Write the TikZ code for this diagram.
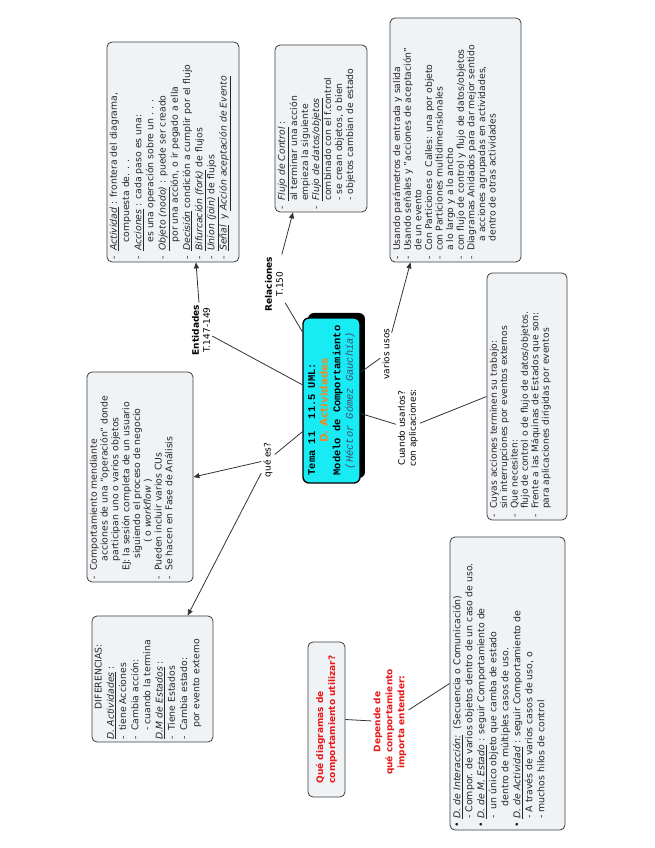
\documentclass[tikz,border=0pt]{standalone}
\usepackage{fontspec}
\setmainfont{DejaVu Sans}
\newfontfamily\monofont{Liberation Mono}
\usetikzlibrary{arrows.meta}

\definecolor{boxfill}{RGB}{240,243,246}
\definecolor{boxline}{RGB}{60,60,60}
\definecolor{temafill}{RGB}{25,235,245}
\definecolor{temaorange}{RGB}{232,140,40}
\definecolor{autor}{RGB}{60,80,110}
\definecolor{rojo}{RGB}{232,25,25}

\newcommand{\bul}{\makebox[0.9em][l]{-}}
\newcommand{\ind}{\hspace*{0.9em}}
\newcommand{\uit}[1]{\underline{\textit{#1}}}

\tikzset{
  box/.style={draw=boxline, fill=boxfill, line width=0.8pt, rounded corners=5pt, inner sep=0pt},
  txt/.style={anchor=north west, inner sep=3pt, align=left, text=black!85},
  tema/.style={draw=black, line width=1.4pt, fill=temafill, rounded corners=6pt,
    inner sep=0pt, minimum width=165pt, minimum height=57pt,
    font=\fontsize{10.4}{12.6}\selectfont},
  lbl/.style={align=center, inner sep=2pt, font=\fontsize{9}{11}\selectfont},
  link/.style={line width=0.8pt, black!80},
  arr/.style={link, -{Triangle[length=6pt,width=5pt]}},
}

\begin{document}
\begin{tikzpicture}[x=1pt, y=1pt]
\begin{scope}[rotate=90, transform shape]
\useasboundingbox (0,0) rectangle (848,655);

%% central node with its shadow
\fill[black, rounded corners=6pt] (370,290) rectangle (535,347);
\node[tema] (tema) at (447.5,323.5) {%
  \begin{tabular}{@{}l@{}}
  {\monofont\bfseries Tema 11\ \ 11.5 UML:}\\
  \multicolumn{1}{@{}c@{}}{\bfseries\color{temaorange}D. Actividades}\\
  {\monofont\bfseries Modelo de Comportamiento}\\
  \multicolumn{1}{@{}c@{}}{\monofont\itshape\color{autor}(Héctor Gómez Gauchía)}
  \end{tabular}};

%% Entidades
\node[lbl] (ent) at (518,454) {\textbf{Entidades}\\T.147-149};
\node[box, minimum width=220pt, minimum height=132pt] (act) at (696,482) {};
\node[txt, font=\fontsize{9.3}{12.2}\selectfont] (act-t) at (act.north west) {%
  \bul\uit{Actividad} : frontera del diagrama,\\
  \ind\ind compuesta de. . .\\
  \bul\uit{Acciones} : cada paso es una:\\
  \ind\ind es una operación sobre un . . .\\
  \bul\uit{Objeto (nodo)} : puede ser creado\\
  \ind\ind por una acción, o ir pegado a ella\\
  \bul\uit{Decisión} condición a cumplir por el flujo\\
  \bul\uit{Bifurcación (fork)} de flujos\\
  \bul\uit{Union (join)} de flujos\\
  \bul\uit{Señal}\ \ y \uit{Acción aceptación de Evento}};

%% Relaciones
\node[lbl] (rel) at (564,381) {\textbf{Relaciones}\\T.150};
\node[box, minimum width=167pt, minimum height=92pt] (flujo) at (719.5,334) {};
\node[txt, font=\fontsize{9.3}{11}\selectfont] (flujo-t) at (flujo.north west) {%
  \bul\uit{Flujo de Control} :\\
  \ind al terminar una acción\\
  \ind empieza la siguiente\\
  \bul\uit{Flujo de datos/objetos}\\
  \ind combinado con el f.control\\
  \ind - se crean objetos, o bien\\
  \ind - objetos cambian de estado};

%% varios usos
\node[lbl] (usos) at (494,269) {varios usos};
\node[box, minimum width=244pt, minimum height=131pt] (usando) at (708,199.5) {};
\node[txt, font=\fontsize{9.3}{10.6}\selectfont] (usando-t) at (usando.north west) {%
  \bul Usando parámetros de entrada y salida\\
  \bul Usando señales y "acciones de aceptación"\\
  \ind de un evento\\
  \bul Con Particiones o Calles: una por objeto\\
  \bul con Particiones multidimensionales\\
  \ind a lo largo y a lo ancho\\
  \bul con flujo de control y flujo de datos/objetos\\
  \bul Diagramas Anidados para dar mejor sentido\\
  \ind\quad a acciones agrupadas en actividades,\\
  \ind\quad dentro de otras actividades};

%% Cuando usarlos
\node[lbl] (cuando) at (420,247) {Cuando usarlos?\\con aplicaciones:};
\node[box, minimum width=247pt, minimum height=80pt] (cuyas) at (451.5,128) {};
\node[txt, font=\fontsize{9.2}{10.4}\selectfont] (cuyas-t) at (cuyas.north west) {%
  \bul Cuyas acciones terminen su trabajo:\\
  \ind sin interrupciones por eventos externos\\
  \bul Que necesiten:\\
  \ind flujo de control o de flujo de datos/objetos.\\
  \bul Frente a las Máquinas de Estados que son:\\
  \ind para aplicaciones dirigidas por eventos};

%% qué es?
\node[lbl] (que) at (388,387) {qué es?};
\node[box, minimum width=210pt, minimum height=106pt] (comp) at (371,515) {};
\node[txt, font=\fontsize{9.3}{10.8}\selectfont] (comp-t) at (comp.north west) {%
  \bul Comportamiento mendiante\\
  \ind\quad acciones de una "operación" donde\\
  \ind\quad participan uno o varios objetos\\
  \ind EJ: la sesión completa de un usuario\\
  \ind\quad\ siguiendo el proceso de negocio\\
  \ind\qquad\quad ( o \textit{workflow} )\\
  \bul Pueden incluir varios CUs\\
  \bul Se hacen en Fase de Análisis};

\node[box, minimum width=126pt, minimum height=121pt] (dif) at (169,502.5) {};
\node[txt, font=\fontsize{9.3}{12.2}\selectfont] (dif-t) at (dif.north west) {%
  \hspace*{30pt}DIFERENCIAS:\\
  \uit{D. Actividades} :\\
  \bul tiene Acciones\\
  \bul Cambia acción:\\
  \ind - cuando la termina\\
  \uit{D.M de Estados} :\\
  \bul Tiene Estados\\
  \bul Cambia estado:\\
  \ind\ por evento externo};

%% Qué diagramas
\node[box, text=rojo, align=left, minimum width=155pt, minimum height=37pt,
  font=\fontsize{9}{12}\selectfont\bfseries] (quest) at (128.5,328.5)
  {Qué diagramas de\\comportamiento utilizar?};
\node[lbl, text=rojo, font=\fontsize{9}{12}\selectfont\bfseries] (dep) at (126,265)
  {Depende de\\qué comportamiento\\importa entender:};
\node[box, minimum width=293pt, minimum height=115pt] (bul) at (164.5,147.5) {};
\node[txt, font=\fontsize{9.4}{12}\selectfont] (bul-t) at (bul.north west) {%
  \textbullet\ \uit{D. de Interacción:}\ \ (Secuencia o Comunicación)\\
  \ind - Compor. de varios objetos dentro de un caso de uso.\\
  \textbullet\ \uit{D. de M. Estado} : seguir Comportamiento de\\
  \ind -\ \ un único objeto que camba de estado\\
  \ind\quad\ dentro de múltiples casos de uso.\\
  \textbullet\ \uit{D. de Actividad} : seguir Comportamiento de\\
  \ind - A través de varios casos de uso, o\\
  \ind - muchos hilos de control};

%% Connectors
\draw[link] (tema) -- (ent);
\draw[arr] (ent) -- ([yshift=-23pt]act.west);
\draw[link] (tema.23) -- (rel);
\draw[arr] (rel) -- ([yshift=28pt]flujo.west);
\draw[link] (tema.137) -- (que);
\draw[arr] (que) -- (comp.south);
\draw[arr] (que) -- (dif.-29);
\draw[link] (tema.-46) -- (usos);
\draw[arr] (usos) -- ([yshift=45pt]usando.west);
\draw[link] (tema.-114) -- (cuando);
\draw[link] (cuando) -- (cuyas.north);
\draw[link] (quest.south) -- (dep);
\draw[link] (dep) -- (bul.north);

\end{scope}
\end{tikzpicture}
\end{document}
